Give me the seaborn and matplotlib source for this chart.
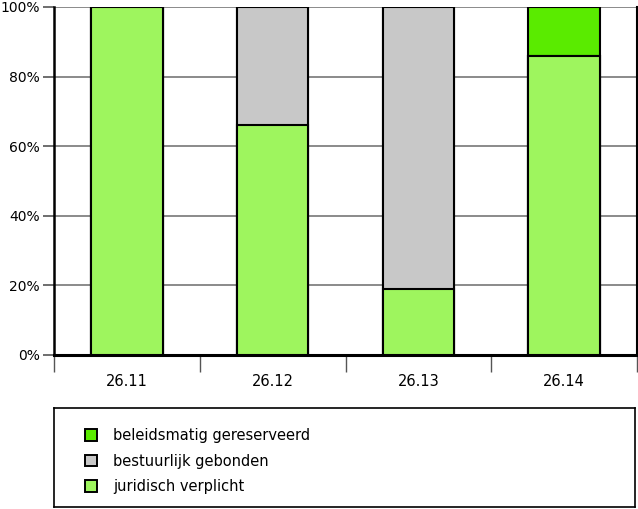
import matplotlib
matplotlib.use("Agg")
import matplotlib.pyplot as plt
import seaborn as sns
import pandas as pd
import numpy as np
from matplotlib.patches import Patch
from matplotlib.ticker import FuncFormatter

categories = ["26.11", "26.12", "26.13", "26.14"]
juridisch = [100, 66, 19, 86]
bestuurlijk = [0, 34, 81, 0]
beleidsmatig = [0, 0, 0, 14]
series_labels = ["beleidsmatig gereserveerd", "bestuurlijk gebonden", "juridisch verplicht"]
colors = {"juridisch": "#9ef55e", "bestuurlijk": "#c8c8c8", "beleidsmatig": "#5aeb00"}

sns.set_theme(style="white")
plt.rcParams['font.family'] = ['DejaVu Sans']
plt.rcParams['text.color'] = 'black'
plt.rcParams['xtick.color'] = 'black'
plt.rcParams['ytick.color'] = 'black'

fig = plt.figure(figsize=(6.38, 5.09), dpi=100)
ax = fig.add_axes([54/638, 1-355/509, 583/638, 348/509])

df = pd.DataFrame({"cat": categories, "j": juridisch, "b": bestuurlijk, "r": beleidsmatig})
df["jb"] = df["j"] + df["b"]
df["jbr"] = df["jb"] + df["r"]

w = 0.49
sns.barplot(data=df, x="cat", y="jbr", color=colors["beleidsmatig"], saturation=1, width=w,
            edgecolor="black", linewidth=1.5, ax=ax, zorder=3)
sns.barplot(data=df, x="cat", y="jb", color=colors["bestuurlijk"], saturation=1, width=w,
            edgecolor="black", linewidth=1.5, ax=ax, zorder=3)
sns.barplot(data=df, x="cat", y="j", color=colors["juridisch"], saturation=1, width=w,
            edgecolor="black", linewidth=1.5, ax=ax, zorder=3)

ax.set_xlim(-0.5, 3.5)
ax.set_ylim(0, 100)
ax.set_yticks([0, 20, 40, 60, 80, 100])
ax.yaxis.set_major_formatter(FuncFormatter(lambda v, p: f"{int(v)}%"))
ax.grid(axis="y", color="#777777", linewidth=1.2, zorder=0)
ax.set_axisbelow(True)
ax.set_xlabel("")
ax.set_ylabel("")

ax.set_xticks(range(4))
ax.set_xticklabels(categories, fontsize=10.5)
ax.tick_params(axis="x", length=0, pad=14, labelcolor="black")
ax.set_xticks(np.arange(-0.5, 4.0, 1.0), minor=True)
ax.tick_params(axis="x", which="minor", length=12, width=1, color="#555555", direction="out", bottom=True)
ax.tick_params(axis="y", length=8, width=1.2, color="#555555", labelsize=10, pad=2, left=True,
               labelcolor="black")

ax.spines["top"].set_visible(False)
ax.spines["left"].set_color("black")
ax.spines["left"].set_linewidth(1.8)
ax.spines["bottom"].set_color("black")
ax.spines["bottom"].set_linewidth(2.2)
ax.spines["right"].set_color("black")
ax.spines["right"].set_linewidth(1.5)

lax = fig.add_axes([54/638, 2/509, 581/638, 99/509])
lax.set_xticks([]); lax.set_yticks([])
for s in lax.spines.values():
    s.set_color("black"); s.set_linewidth(1.2)
handles = [Patch(facecolor=colors["beleidsmatig"], edgecolor="black", linewidth=1.4),
           Patch(facecolor=colors["bestuurlijk"], edgecolor="black", linewidth=1.4),
           Patch(facecolor=colors["juridisch"], edgecolor="black", linewidth=1.4)]
leg = lax.legend(handles, series_labels, loc="upper left", bbox_to_anchor=(0.03, 0.93),
                 frameon=False, fontsize=10.5, handlelength=0.85, handleheight=0.85,
                 labelspacing=0.72, handletextpad=1.1, labelcolor="black")

fig.savefig("out.png", dpi=100)
